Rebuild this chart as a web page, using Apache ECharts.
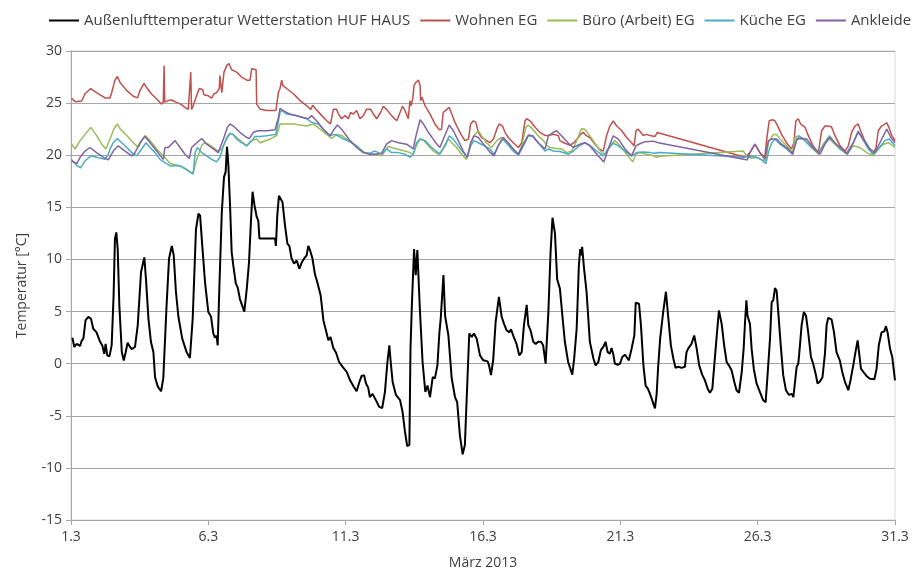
<!DOCTYPE html>
<html>
<head>
<meta charset="utf-8">
<script src="https://cdn.jsdelivr.net/npm/echarts@6/dist/echarts.min.js"></script>
<style>
  html, body { margin: 0; padding: 0; background: #fff; }
  #chart { width: 917px; height: 571px; }
</style>
</head>
<body>
<div id="chart"></div>
<script>
// Temperaturverlauf März 2013 – Tag im Monat (Bruchteil = Tageszeit), Temperatur in °C
const seriesNames = [
  'Außenlufttemperatur Wetterstation HUF HAUS',
  'Wohnen EG',
  'Büro (Arbeit) EG',
  'Küche EG',
  'Ankleide'
];
const seriesColors = ['#000000', '#C0504D', '#9BBB59', '#4BACC6', '#8064A2'];
const xTicks = [1, 6, 11, 16, 21, 26, 31];
const yTicks = [-15, -10, -5, 0, 5, 10, 15, 20, 25, 30];

const aussen = [
  [1.05,2.5],[1.12,1.6],[1.21,1.9],[1.33,1.7],[1.39,2.2],[1.45,2.4],[1.53,4.15],[1.63,4.5],[1.73,4.3],[1.81,3.35],
  [1.93,3.0],[2.06,2.1],[2.14,1.75],[2.21,0.95],[2.26,1.9],[2.32,0.8],[2.40,0.7],[2.48,1.75],[2.55,6.5],[2.60,12.0],
  [2.65,12.6],[2.70,11.0],[2.76,5.6],[2.85,1.1],[2.92,0.3],[2.99,1.1],[3.06,2.0],[3.15,1.6],[3.21,1.4],[3.33,1.6],
  [3.43,3.7],[3.55,8.8],[3.67,10.2],[3.73,8.1],[3.82,4.3],[3.91,2.1],[4.00,1.1],[4.06,-1.3],[4.16,-2.2],[4.28,-2.65],
  [4.36,-1.4],[4.48,5.6],[4.57,10.1],[4.67,11.3],[4.74,10.4],[4.82,6.9],[4.91,4.5],[5.05,2.4],[5.21,1.1],[5.33,0.55],
  [5.43,4.3],[5.55,12.9],[5.64,14.4],[5.70,14.2],[5.78,11.3],[5.88,7.8],[6.00,4.95],[6.10,4.5],[6.18,2.9],[6.24,2.5],
  [6.30,2.7],[6.34,1.75],[6.40,7.2],[6.49,14.5],[6.57,17.9],[6.63,18.4],[6.68,20.8],[6.73,19.0],[6.79,15.2],[6.85,10.7],
  [6.91,9.4],[7.00,7.7],[7.07,7.3],[7.15,6.2],[7.31,5.0],[7.40,7.2],[7.48,9.7],[7.55,13.6],[7.61,16.5],[7.68,15.2],
  [7.76,14.1],[7.82,13.7],[7.86,12.0],[8.43,12.0],[8.46,11.3],[8.51,14.2],[8.57,16.1],[8.64,16.2],[8.70,15.5],[8.79,13.3],
  [8.88,11.5],[8.95,11.3],[9.03,10.1],[9.12,9.6],[9.22,9.9],[9.31,9.1],[9.40,9.7],[9.49,10.1],[9.58,10.4],[9.64,11.3],
  [9.70,10.9],[9.79,10.1],[9.88,8.6],[9.98,7.7],[10.09,6.55],[10.19,4.15],[10.28,3.2],[10.37,2.24],[10.45,2.56],[10.55,1.5],
  [10.65,1.05],[10.76,0.16],[10.89,-0.3],[11.04,-0.8],[11.16,-1.6],[11.30,-2.24],[11.40,-2.65],[11.50,-1.76],[11.58,-1.18],[11.67,-1.1],
  [11.74,-1.9],[11.82,-2.3],[11.88,-3.2],[11.98,-2.9],[12.10,-3.5],[12.22,-4.15],[12.33,-4.25],[12.43,-2.7],[12.52,0.16],[12.59,1.76],
  [12.64,0.16],[12.71,-1.76],[12.83,-3.0],[12.98,-3.5],[13.07,-4.6],[13.16,-6.55],[13.24,-7.9],[13.32,-7.8],[13.36,1.4],[13.41,5.6],
  [13.49,11.0],[13.55,8.5],[13.61,10.9],[13.70,5.3],[13.80,0.16],[13.90,-2.7],[13.98,-2.1],[14.07,-3.2],[14.17,-1.3],[14.25,-1.4],
  [14.34,-0.16],[14.41,2.9],[14.46,4.3],[14.56,8.5],[14.62,4.6],[14.74,2.7],[14.86,-1.4],[14.98,-3.2],[15.06,-3.7],[15.16,-6.9],
  [15.26,-8.7],[15.34,-7.8],[15.43,-1.76],[15.50,2.9],[15.59,2.56],[15.67,2.9],[15.77,2.4],[15.89,0.8],[16.01,0.32],[16.17,0.22],
  [16.22,-0.16],[16.29,-1.1],[16.37,0.32],[16.46,4.0],[16.58,6.4],[16.68,4.5],[16.77,3.8],[16.86,3.2],[16.96,3.0],[17.02,3.3],
  [17.10,2.7],[17.22,1.9],[17.32,0.8],[17.41,1.1],[17.49,3.7],[17.59,5.65],[17.65,3.7],[17.73,3.2],[17.83,2.1],[17.92,1.9],
  [18.01,2.1],[18.11,2.1],[18.19,1.76],[18.28,0],[18.38,4.95],[18.46,10.7],[18.53,14.0],[18.62,12.5],[18.70,8.1],[18.80,7.2],
  [18.89,4.6],[18.98,2.1],[19.10,0.16],[19.17,0],[19.25,-1.05],[19.32,0.5],[19.41,3.35],[19.49,9.4],[19.54,11.0],[19.57,10.4],
  [19.61,11.2],[19.68,9.1],[19.77,6.9],[19.89,2.1],[20.02,0.5],[20.10,-0.16],[20.20,0.16],[20.29,1.3],[20.38,1.6],[20.46,2.1],
  [20.54,1.1],[20.62,0.96],[20.68,1.5],[20.74,0.96],[20.80,0],[20.90,-0.1],[20.99,0],[21.07,0.64],[21.17,0.86],[21.23,0.96],
  [21.31,0.32],[21.41,1.44],[21.51,2.7],[21.56,5.85],[21.68,5.75],[21.75,3.7],[21.84,-0.16],[21.92,-2.1],[22.00,-2.4],[22.08,-2.9],
  [22.16,-3.5],[22.26,-4.3],[22.32,-3.0],[22.38,-0.16],[22.45,2.4],[22.56,4.95],[22.66,6.9],[22.75,4.3],[22.84,1.76],[22.93,0.5],
  [23.01,-0.4],[23.11,-0.3],[23.23,-0.4],[23.35,-0.3],[23.41,1.1],[23.47,1.44],[23.53,1.5],[23.59,1.9],[23.69,2.7],[23.78,1.44],
  [23.87,-0.16],[23.98,-1.05],[24.08,-1.6],[24.18,-2.4],[24.26,-2.8],[24.35,-2.4],[24.44,0.48],[24.52,3.0],[24.59,5.1],[24.69,3.8],
  [24.78,1.76],[24.87,0.16],[24.95,-0.16],[25.05,-0.64],[25.15,-1.76],[25.23,-2.55],[25.32,-2.8],[25.42,-0.8],[25.49,1.44],[25.54,4.0],
  [25.59,6.07],[25.63,4.6],[25.72,3.8],[25.78,1.44],[25.86,-0.5],[25.96,-1.9],[26.08,-2.7],[26.20,-3.5],[26.29,-3.7],[26.36,-1.1],
  [26.45,2.4],[26.51,5.9],[26.57,6.1],[26.63,7.25],[26.69,7.0],[26.75,4.95],[26.84,1.76],[26.93,-1.1],[27.03,-2.55],[27.14,-3.0],
  [27.24,-2.9],[27.30,-3.2],[27.36,-1.76],[27.42,-0.3],[27.48,0],[27.54,1.76],[27.60,3.7],[27.68,4.95],[27.76,4.6],[27.84,3.0],
  [27.94,0.64],[28.02,0],[28.11,-0.96],[28.18,-1.9],[28.27,-1.7],[28.36,-1.3],[28.45,0.96],[28.51,3.7],[28.57,4.4],[28.69,4.25],
  [28.78,3.0],[28.87,1.1],[28.99,0.32],[29.08,-0.8],[29.18,-1.76],[29.30,-2.55],[29.38,-1.6],[29.48,-0.16],[29.54,0.8],[29.64,2.24],
  [29.69,1.1],[29.76,-0.48],[29.85,-0.8],[29.97,-1.2],[30.09,-1.44],[30.25,-1.5],[30.33,-0.48],[30.41,1.76],[30.51,3.0],[30.61,3.1],
  [30.67,3.6],[30.73,3.0],[30.82,1.44],[30.90,0.64],[31.00,-1.6]
];

const wohnen = [
  [1.02,25.47],[1.15,25.14],[1.39,25.2],[1.51,25.9],[1.72,26.4],[1.93,26.0],[2.24,25.5],[2.42,25.5],[2.48,26.0],[2.60,27.2],
  [2.69,27.55],[2.78,27.0],[3.03,26.2],[3.27,25.66],[3.42,25.5],[3.51,26.2],[3.66,26.9],[3.75,26.5],[3.94,25.85],[4.12,25.4],
  [4.30,24.9],[4.36,25.1],[4.39,28.6],[4.41,25.1],[4.54,25.24],[4.67,25.3],[4.73,25.47],[4.82,25.1],[4.99,24.9],[5.15,24.6],
  [5.27,24.4],[5.33,24.3],[5.36,27.97],[5.39,24.4],[5.45,24.75],[5.55,25.55],[5.67,26.4],[5.79,26.3],[5.84,25.8],[6.00,25.7],
  [6.12,25.47],[6.21,25.9],[6.30,26.0],[6.40,26.4],[6.42,27.65],[6.49,26.0],[6.57,27.97],[6.67,28.6],[6.75,28.8],[6.85,28.2],
  [7.03,27.97],[7.21,27.5],[7.40,27.2],[7.52,27.2],[7.58,28.3],[7.64,28.44],[7.74,28.2],[7.76,24.9],[7.88,24.44],[8.12,24.3],
  [8.46,24.3],[8.55,26.0],[8.61,26.4],[8.67,27.2],[8.71,26.7],[8.85,26.4],[9.10,25.9],[9.34,25.24],[9.58,24.75],[9.73,24.4],
  [9.80,24.8],[9.92,24.4],[10.13,23.8],[10.31,23.3],[10.45,23.0],[10.55,24.4],[10.67,24.4],[10.73,24.0],[10.85,23.5],[10.98,23.8],
  [11.10,23.5],[11.18,24.1],[11.28,23.95],[11.40,24.3],[11.52,23.5],[11.64,23.8],[11.76,24.4],[11.91,24.4],[12.01,23.95],[12.13,23.5],
  [12.27,24.1],[12.37,24.7],[12.49,24.4],[12.67,23.8],[12.86,23.3],[12.98,24.1],[13.07,24.7],[13.16,24.3],[13.28,23.5],[13.34,25.24],
  [13.38,24.75],[13.44,25.4],[13.49,26.7],[13.56,27.0],[13.65,27.2],[13.71,26.7],[13.73,25.24],[13.78,25.56],[13.89,24.75],[14.07,23.95],
  [14.25,23.0],[14.41,22.44],[14.49,22.5],[14.55,24.1],[14.68,24.4],[14.77,24.6],[14.86,23.95],[14.98,23.15],[15.10,22.5],[15.22,21.9],
  [15.34,21.4],[15.47,21.55],[15.55,23.0],[15.65,23.3],[15.74,23.15],[15.83,22.2],[15.95,21.7],[16.13,21.4],[16.25,21.2],[16.38,21.55],
  [16.50,22.5],[16.59,23.0],[16.71,22.8],[16.80,22.2],[16.92,21.7],[17.10,21.2],[17.29,20.74],[17.41,21.2],[17.53,23.3],[17.59,23.5],
  [17.71,23.3],[17.89,22.7],[18.07,22.2],[18.26,21.9],[18.38,21.9],[18.56,22.0],[18.74,21.9],[18.80,21.4],[18.98,21.15],[19.17,20.96],
  [19.31,21.2],[19.47,21.7],[19.55,22.0],[19.65,22.2],[19.75,21.9],[19.89,21.7],[20.08,21.06],[20.23,20.6],[20.38,20.4],[20.50,21.9],
  [20.62,22.8],[20.74,23.3],[20.87,22.8],[21.05,22.35],[21.23,21.7],[21.41,21.2],[21.50,20.9],[21.57,22.35],[21.65,22.5],[21.74,22.2],
  [21.83,21.9],[21.96,22.0],[22.08,21.9],[22.26,21.8],[22.35,22.2],[22.44,22.1],[25.54,19.8],[25.72,20.25],[25.90,21.06],[26.08,20.25],
  [26.26,19.8],[26.33,21.55],[26.42,23.3],[26.54,23.4],[26.63,23.3],[26.75,22.7],[26.87,22.0],[27.05,21.2],[27.23,20.6],[27.32,21.2],
  [27.39,23.3],[27.48,23.5],[27.56,23.0],[27.72,22.7],[27.84,21.9],[28.02,20.9],[28.21,20.25],[28.33,22.35],[28.45,22.8],[28.57,22.8],
  [28.69,22.7],[28.81,21.9],[29.00,20.9],[29.18,20.4],[29.30,20.9],[29.42,22.2],[29.54,22.8],[29.66,23.0],[29.75,22.35],[29.87,21.55],
  [30.03,20.74],[30.19,20.1],[30.31,20.74],[30.39,22.35],[30.51,22.8],[30.70,23.1],[30.79,22.6],[30.88,21.9],[31.00,21.4]
];

const buero = [
  [1.02,21.06],[1.15,20.6],[1.33,21.4],[1.51,22.0],[1.72,22.67],[1.93,21.9],[2.12,21.06],[2.27,20.6],[2.42,21.55],[2.57,22.57],
  [2.69,23.0],[2.78,22.57],[3.03,21.9],[3.27,21.2],[3.45,20.74],[3.57,21.4],[3.70,21.9],[3.88,21.4],[4.12,20.6],[4.36,19.94],
  [4.61,19.2],[4.97,18.97],[5.21,18.65],[5.43,18.2],[5.58,19.6],[5.76,20.96],[5.88,21.2],[6.00,21.06],[6.18,20.74],[6.36,20.4],
  [6.49,20.6],[6.67,21.55],[6.79,22.1],[6.91,22.0],[7.03,21.7],[7.21,21.3],[7.40,20.9],[7.58,21.4],[7.76,21.55],[7.88,21.2],
  [8.25,21.55],[8.49,21.9],[8.61,23.0],[9.10,23.0],[9.58,22.8],[9.82,23.0],[10.07,22.5],[10.31,22.0],[10.49,21.6],[10.67,22.0],
  [10.85,21.9],[11.16,21.3],[11.34,20.96],[11.52,20.6],[11.70,20.25],[11.88,20.1],[12.13,20.1],[12.31,19.94],[12.43,20.4],[12.55,20.84],
  [12.67,20.74],[12.86,20.6],[13.16,20.4],[13.34,20.25],[13.46,20.1],[13.58,20.96],[13.71,21.55],[13.77,21.7],[13.85,21.4],[14.01,20.9],
  [14.19,20.4],[14.37,20.1],[14.49,20.4],[14.62,21.06],[14.74,21.55],[14.86,21.2],[15.04,20.74],[15.22,20.1],[15.40,19.6],[15.53,20.9],
  [15.67,21.86],[15.83,22.35],[15.95,21.86],[16.13,21.2],[16.31,20.74],[16.38,20.9],[16.50,21.4],[16.68,21.7],[16.86,21.2],[17.10,20.6],
  [17.29,20.1],[17.41,20.9],[17.56,22.67],[17.65,22.9],[17.81,22.5],[18.01,21.86],[18.20,21.4],[18.34,20.9],[18.44,20.74],[18.68,20.64],
  [18.86,20.6],[19.04,20.25],[19.23,20.4],[19.41,21.4],[19.59,22.57],[19.71,22.5],[19.89,21.86],[20.14,20.9],[20.32,20.25],[20.44,20.1],
  [20.62,20.9],[20.80,21.4],[20.99,20.9],[21.23,20.1],[21.45,19.36],[21.57,20.1],[21.71,20.25],[21.96,20.1],[22.20,19.94],[22.32,19.8],
  [22.44,19.9],[25.48,20.4],[25.60,19.9],[25.78,19.7],[25.96,19.8],[26.14,19.6],[26.30,19.45],[26.39,21.2],[26.57,22.0],[26.69,22.0],
  [26.81,21.55],[27.00,21.06],[27.17,20.6],[27.27,20.25],[27.36,21.7],[27.48,21.86],[27.66,21.6],[27.90,20.9],[28.21,20.1],[28.39,21.06],
  [28.57,21.7],[28.75,21.2],[29.00,20.6],[29.24,20.1],[29.48,20.9],[29.72,20.74],[29.97,20.25],[30.21,19.94],[30.39,20.6],[30.57,21.06],
  [30.76,21.2],[31.00,20.74]
];

const kueche = [
  [1.02,19.6],[1.21,19.0],[1.35,18.8],[1.51,19.45],[1.72,19.94],[1.93,19.8],[2.24,19.6],[2.36,20.1],[2.42,20.6],[2.54,21.2],
  [2.69,21.6],[2.85,21.2],[3.03,20.74],[3.21,20.25],[3.39,19.94],[3.57,20.6],[3.73,21.2],[3.88,20.74],[4.06,20.25],[4.24,19.6],
  [4.42,19.3],[4.61,18.97],[4.79,19.0],[4.97,19.0],[5.15,18.7],[5.33,18.4],[5.45,18.2],[5.52,20.25],[5.60,20.74],[5.76,20.25],
  [5.94,19.94],[6.12,19.6],[6.30,19.36],[6.42,19.8],[6.55,20.9],[6.67,21.7],[6.79,22.1],[6.89,22.0],[7.03,21.55],[7.21,21.2],
  [7.40,20.9],[7.58,21.4],[7.70,21.8],[7.88,21.8],[8.12,21.86],[8.46,22.0],[8.61,24.1],[8.67,24.3],[8.85,23.95],[9.22,23.8],
  [9.58,23.5],[9.76,23.15],[10.00,23.0],[10.19,22.5],[10.43,21.86],[10.55,22.0],[10.73,21.86],[10.92,21.55],[11.16,21.3],[11.40,20.9],
  [11.64,20.25],[11.88,20.2],[12.07,20.4],[12.31,20.1],[12.49,20.6],[12.67,20.25],[12.92,20.25],[13.16,20.1],[13.34,19.8],[13.46,20.1],
  [13.58,21.2],[13.71,21.55],[13.89,21.4],[14.13,20.74],[14.43,20.1],[14.62,20.9],[14.77,21.86],[14.92,21.55],[15.10,20.9],[15.28,20.25],
  [15.43,19.8],[15.55,20.9],[15.67,21.4],[15.83,21.2],[16.01,20.96],[16.25,20.6],[16.40,20.1],[16.56,20.9],[16.71,21.55],[16.86,21.15],
  [17.10,20.4],[17.29,20.0],[17.47,20.9],[17.65,21.86],[17.81,21.8],[18.01,21.2],[18.26,20.4],[18.38,20.6],[18.56,20.4],[18.80,20.35],
  [19.11,20.1],[19.29,20.4],[19.53,20.96],[19.71,21.2],[19.89,20.96],[20.14,20.4],[20.38,19.94],[20.56,20.6],[20.74,21.15],[20.93,20.9],
  [21.17,20.4],[21.41,19.9],[21.59,20.25],[21.84,20.3],[22.08,20.25],[22.20,20.2],[22.44,20.25],[25.48,19.8],[25.72,19.9],[25.96,19.8],
  [26.14,19.55],[26.30,19.2],[26.39,20.25],[26.51,21.2],[26.63,21.55],[26.81,21.06],[27.05,20.6],[27.27,20.1],[27.42,21.4],[27.51,21.86],
  [27.72,21.4],[27.96,20.74],[28.21,20.25],[28.39,20.9],[28.61,21.86],[28.75,21.4],[29.00,20.6],[29.24,20.25],[29.48,21.2],[29.66,22.35],
  [29.82,21.55],[30.03,20.6],[30.21,20.1],[30.39,20.6],[30.63,21.4],[30.79,21.55],[31.00,20.9]
];

const ankleide = [
  [1.02,19.45],[1.21,19.2],[1.33,19.8],[1.51,20.4],[1.69,20.74],[1.93,20.25],[2.18,19.8],[2.36,19.55],[2.54,20.4],[2.72,20.9],
  [2.97,20.4],[3.21,19.94],[3.33,20.25],[3.51,21.2],[3.69,21.8],[3.88,21.2],[4.12,20.4],[4.36,19.6],[4.42,20.74],[4.54,20.74],
  [4.79,21.4],[4.97,20.74],[5.15,20.1],[5.31,19.7],[5.39,20.74],[5.58,21.2],[5.76,21.6],[5.94,21.06],[6.18,20.6],[6.36,20.25],
  [6.55,21.55],[6.69,22.67],[6.79,23.0],[6.91,22.8],[7.15,22.2],[7.34,21.8],[7.49,21.6],[7.64,22.2],[7.82,22.35],[8.12,22.35],
  [8.43,22.44],[8.55,23.6],[8.61,24.5],[8.71,24.3],[8.97,23.95],[9.34,23.7],[9.64,23.5],[9.76,23.8],[9.94,23.3],[10.19,22.5],
  [10.43,21.86],[10.58,22.5],[10.70,22.9],[10.85,22.5],[11.16,21.4],[11.40,20.74],[11.64,20.25],[11.88,20.1],[12.13,20.1],[12.31,20.2],
  [12.49,21.06],[12.67,21.4],[12.92,21.2],[13.22,21.06],[13.46,20.6],[13.56,21.86],[13.71,23.4],[13.83,23.0],[14.01,22.2],[14.25,21.3],
  [14.43,20.74],[14.58,21.7],[14.77,22.9],[14.92,22.35],[15.10,21.4],[15.28,20.4],[15.43,19.8],[15.55,21.2],[15.67,21.86],[15.83,21.7],
  [16.07,20.9],[16.25,20.3],[16.40,19.94],[16.56,20.96],[16.74,21.7],[16.92,21.2],[17.10,20.6],[17.29,20.1],[17.47,21.06],[17.65,21.93],
  [17.81,21.86],[18.01,21.2],[18.26,20.6],[18.38,21.86],[18.56,22.2],[18.68,22.35],[18.86,21.86],[19.11,21.15],[19.29,20.74],[19.53,21.06],
  [19.71,21.2],[19.89,20.9],[20.19,19.94],[20.40,19.36],[20.56,20.6],[20.74,21.86],[20.93,21.55],[21.17,20.6],[21.41,19.94],[21.57,20.9],
  [21.71,21.1],[21.90,21.3],[22.20,21.35],[22.38,21.2],[25.54,19.6],[25.62,19.55],[25.72,20.25],[25.90,21.06],[26.08,20.25],[26.26,19.6],
  [26.39,21.4],[26.51,21.55],[26.69,21.55],[26.87,21.06],[27.11,20.6],[27.27,20.1],[27.42,21.55],[27.60,21.6],[27.78,21.55],[28.02,20.74],
  [28.27,20.1],[28.45,21.06],[28.63,21.7],[28.81,21.2],[29.06,20.6],[29.27,20.1],[29.48,21.2],[29.66,22.2],[29.85,21.55],[30.09,20.6],
  [30.27,20.25],[30.45,21.2],[30.70,22.5],[30.85,21.7],[31.00,21.2]
];

const seriesData = [aussen, wohnen, buero, kueche, ankleide];
const lineWidths = [2, 1.5, 1.5, 1.5, 1.5];

const fontFamily = '"Open Sans", "Noto Sans", sans-serif';
const textColor = '#404040';
const gridColor = '#A6A6A6';

const chart = echarts.init(document.getElementById('chart'), null, { renderer: 'canvas' });

chart.setOption({
  animation: false,
  backgroundColor: '#ffffff',
  textStyle: { fontFamily: fontFamily, color: textColor },
  legend: {
    data: seriesNames,
    left: 44,
    top: 8,
    width: 900,
    icon: 'rect',
    itemWidth: 30,
    itemHeight: 2,
    itemGap: 10,
    textStyle: { fontFamily: fontFamily, fontSize: 15, color: textColor }
  },
  grid: {
    left: 71, right: 22, top: 51, bottom: 51,
    show: true, borderColor: '#D9D9D9', borderWidth: 1,
    containLabel: false,
    outerBoundsMode: 'none'
  },
  xAxis: {
    type: 'value',
    min: xTicks[0],
    max: xTicks[xTicks.length - 1],
    interval: 5,
    name: 'März 2013',
    nameLocation: 'middle',
    nameGap: 36,
    nameTextStyle: { fontFamily: fontFamily, fontSize: 14, color: textColor },
    axisLine: { show: true, onZero: false, lineStyle: { color: gridColor, width: 1 } },
    axisTick: { show: true, length: 5, lineStyle: { color: gridColor } },
    axisLabel: {
      margin: 10,
      fontFamily: fontFamily, fontSize: 14, color: textColor,
      formatter: v => xTicks.includes(v) ? v + '.3' : ''
    },
    splitLine: { show: false }
  },
  yAxis: {
    type: 'value',
    min: yTicks[0],
    max: yTicks[yTicks.length - 1],
    interval: 5,
    name: 'Temperatur [°C]',
    nameLocation: 'middle',
    nameGap: 42,
    nameRotate: 90,
    nameTextStyle: { fontFamily: fontFamily, fontSize: 14, color: textColor },
    axisLine: { show: true, lineStyle: { color: gridColor, width: 1 } },
    axisTick: { show: true, length: 5, lineStyle: { color: gridColor } },
    axisLabel: { margin: 9, fontFamily: fontFamily, fontSize: 14, color: textColor },
    splitLine: { show: true, lineStyle: { color: gridColor, width: 1 } }
  },
  series: seriesNames.map((name, i) => ({
    name: name,
    type: 'line',
    data: seriesData[i],
    showSymbol: false,
    symbol: 'none',
    color: seriesColors[i],
    lineStyle: { color: seriesColors[i], width: lineWidths[i] },
    z: 2 + i
  }))
});
</script>
</body>
</html>
